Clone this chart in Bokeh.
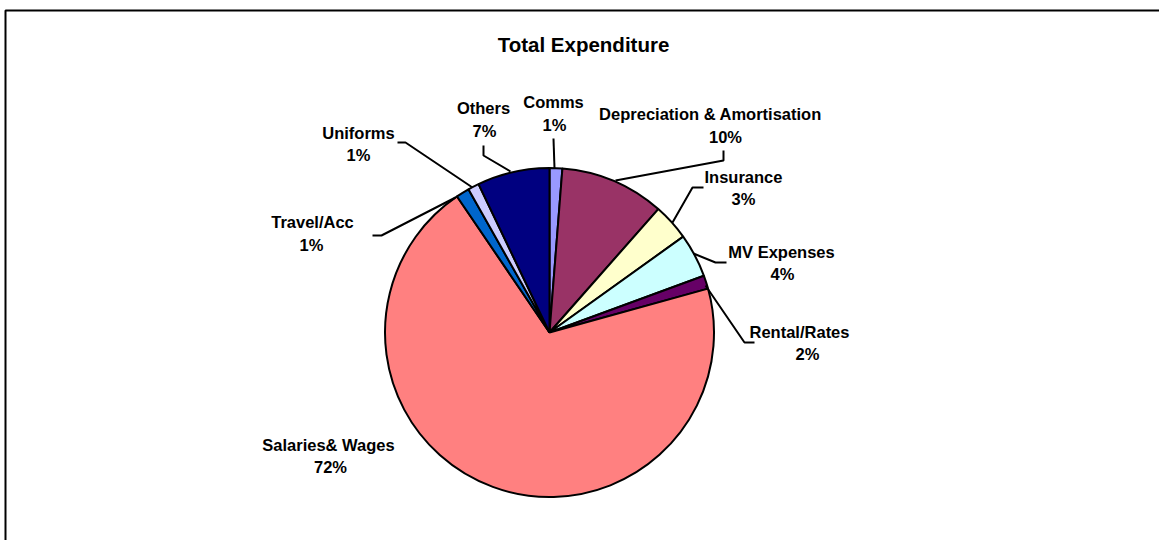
import math
from bokeh.plotting import figure
from bokeh.models import Range1d
from bokeh.core.properties import value
from bokeh.embed import file_html
from bokeh.resources import INLINE

# ---- data ----
title_text = "Total Expenditure"
categories = ["Comms", "Depreciation & Amortisation", "Insurance", "MV Expenses",
              "Rental/Rates", "Salaries& Wages", "Travel/Acc", "Uniforms", "Others"]
shares = [1.25, 10.25, 3.6, 4.3, 1.3, 69.8, 1.3, 1.1, 7.1]
pct_labels = ["1%", "10%", "3%", "4%", "2%", "72%", "1%", "1%", "7%"]
colors = ["#9999FF", "#993366", "#FFFFCC", "#CCFFFF", "#660066",
          "#FF8080", "#0066CC", "#CCCCFF", "#000080"]

# ---- layout (picture pixel coordinates) ----
W, H = 1159, 540
def X(px): return px
def Y(py): return H - py

cx, cy, R = 549, 332, 164.5

# label line positions: (x1, y1, x2, y2) for name line and percent line
label_pos = [
    (553, 101, 554, 124),
    (710, 113, 725, 136),
    (743, 176, 743, 198),
    (781, 251, 782, 273),
    (799, 331, 807, 353),
    (328, 444, 330, 466),
    (312, 221, 311, 244),
    (358, 132, 358, 154),
    (483, 107, 484, 130),
]
leaders = [
    [(554, 168), (553, 138)],
    [(615, 180), (723, 160), (723, 150)],
    [(672, 222), (692, 187), (703, 187)],
    [(693, 253), (715, 262), (726, 262)],
    [(705, 285), (744, 342), (754, 342)],
    None,
    [(455, 197), (381, 235), (372, 235)],
    [(472, 187), (405, 142), (397, 142)],
    [(510, 171), (483, 155), (483, 145)],
]

p = figure(width=W, height=H, output_backend="svg", toolbar_location=None,
           x_range=Range1d(0, W), y_range=Range1d(0, H),
           x_axis_type=None, y_axis_type=None, min_border=0)
p.grid.visible = False
p.outline_line_color = None
p.background_fill_color = "white"

# pie wedges from shares (clockwise from 12 o'clock)
total = sum(shares)
starts, ends = [], []
acc = 0.0
for s in shares:
    t1 = acc / total * 360.0
    acc += s
    t2 = acc / total * 360.0
    starts.append(math.radians(90 - t2))
    ends.append(math.radians(90 - t1))

p.wedge(x=[X(cx)] * len(shares), y=[Y(cy)] * len(shares), radius=R,
        start_angle=starts, end_angle=ends, fill_color=colors,
        line_color="black", line_width=2)

# leader lines
xs, ys = [], []
for ld in leaders:
    if ld is None:
        continue
    xs.append([X(a) for a, b in ld])
    ys.append([Y(b) for a, b in ld])
p.multi_line(xs=xs, ys=ys, line_color="black", line_width=2)

# labels
fnt = value("Liberation Sans")
p.text(x=[X(lp[0]) for lp in label_pos], y=[Y(lp[1]) for lp in label_pos],
       text=categories, text_font=fnt, text_font_style="bold",
       text_font_size="16.5px", text_align="center", text_baseline="middle",
       text_color="black")
p.text(x=[X(lp[2]) for lp in label_pos], y=[Y(lp[3]) for lp in label_pos],
       text=pct_labels, text_font=fnt, text_font_style="bold",
       text_font_size="16.5px", text_align="center", text_baseline="middle",
       text_color="black")

# title
p.text(x=[X(583)], y=[Y(44)], text=[title_text], text_font=fnt,
       text_font_style="bold", text_font_size="20.5px", text_align="center",
       text_baseline="middle", text_color="black")

# chart frame (left and top edges visible)
p.line(x=[X(5), X(5), W], y=[0, Y(10), Y(10)], line_color="black", line_width=2)

open("out.html", "w").write(file_html(p, INLINE))
